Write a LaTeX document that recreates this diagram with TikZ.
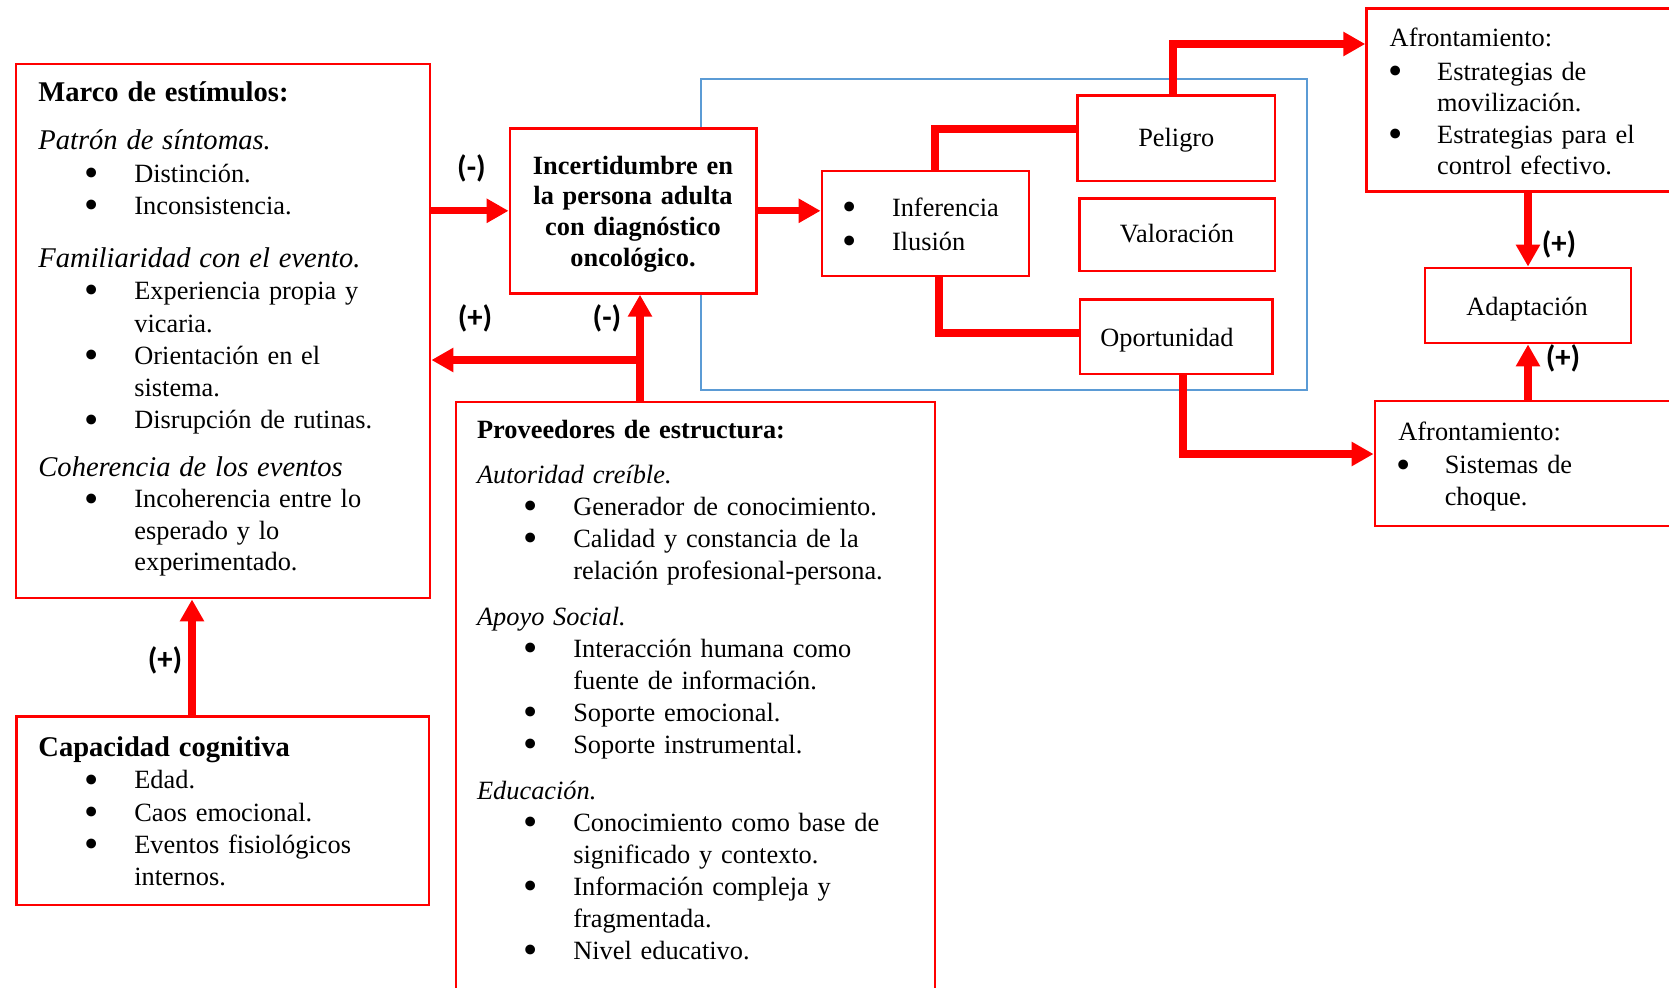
\documentclass[tikz,border=0pt]{standalone}
\usepackage{fontspec}
\setmainfont{Liberation Serif}
\newfontfamily\signfont{Carlito}
\usetikzlibrary{arrows.meta, fit}

\definecolor{boxred}{RGB}{255,0,0}
\definecolor{frameblue}{RGB}{91,155,213}

% bullet lists inside the boxes
\newlength\bulx
\newlength\txtx
\newcommand{\bigbul}{\raisebox{-1.9pt}{\scalebox{1.55}{\textbullet}}}
\newcommand{\bitem}[1]{\hangindent=\txtx\hangafter=1\noindent\makebox[\txtx][l]{\hspace*{\bulx}\makebox[0pt]{\bigbul}}#1\par}
\newcommand{\grp}[2]{\vspace{#1}{\itshape #2\par}}

\tikzset{
  box/.style={draw=boxred, line width=1.3pt, fill=white, inner sep=0pt},
  txt/.style={anchor=base west, inner sep=0pt, text width=9cm,
    font=\fontsize{12}{14.7}\selectfont},
  word/.style={anchor=base, inner sep=0pt, font=\fontsize{12}{14}\selectfont},
  arr/.style={draw=boxred, line width=3.2pt, -{Triangle[length=10pt,width=10.5pt]}},
  link/.style={draw=boxred, line width=3.2pt},
  sign/.style={font=\signfont\bfseries\fontsize{14}{16}\selectfont, inner sep=0pt}
}

\begin{document}
\begin{tikzpicture}[x=0.016cm, y=-0.016cm]
  \useasboundingbox (0,0) rectangle (1669,988);

  % frame round the appraisal
  \node[draw=frameblue, line width=0.7pt, inner sep=0pt, fit={(701,79) (1307,390)}] (zone) {};

  % Boxes
  \node[box, fit={(16,64) (430,598)}] (marco) {};
  \node[box, fit={(16.7,716.7) (429,905)}] (cap) {};
  \node[box, fit={(456,402) (935,1010)}] (prov) {};
  \node[box, fit={(510,128.3) (756.7,293.3)}] (incert) {};
  \node[box, fit={(822,171) (1029,276)}] (infer) {};
  \node[box, fit={(1077.7,95.7) (1275,181)}] (peligro) {};
  \node[box, fit={(1079.3,198.3) (1275,271)}] (valor) {};
  \node[box, fit={(1080,299.3) (1272.7,374)}] (oport) {};
  \node[box, fit={(1366.7,8.3) (1690,191.7)}] (afr1) {};
  \node[box, fit={(1425,268) (1631,343)}] (adapt) {};
  \node[box, fit={(1375,401) (1690,526)}] (afr2) {};

  % Texts of the boxes
  \node[txt] (marcotxt) at (38,101.7) {\setlength\bulx{24.4pt}\setlength\txtx{43.7pt}%
    {\fontsize{13}{15.3}\selectfont\bfseries Marco de estímulos:\par}
    \grp{6.6pt}{\fontsize{13}{15.3}\selectfont Patrón de síntomas.}
    \bitem{Distinción.}
    \bitem{Inconsistencia.}
    \grp{8.9pt}{\fontsize{13}{15.3}\selectfont Familiaridad con el evento.}
    \bitem{Experiencia propia y\newline vicaria.}
    \bitem{Orientación en el\newline sistema.}
    \bitem{Disrupción de rutinas.}
    \grp{6.5pt}{\fontsize{13}{15.3}\selectfont Coherencia de los eventos}
    {\fontsize{12}{14.2}\selectfont\bitem{Incoherencia entre lo\newline esperado y lo\newline experimentado.}}};

  \node[txt] (captxt) at (38,756.7) {\setlength\bulx{24.4pt}\setlength\txtx{43.7pt}%
    {\fontsize{13}{15.3}\selectfont\bfseries Capacidad cognitiva\par}
    \bitem{Edad.}
    \bitem{Caos emocional.}
    \bitem{Eventos fisiológicos\newline internos.}};

  \node[txt, font=\fontsize{12}{14.6}\selectfont] (provtxt) at (476.7,438.3) {\setlength\bulx{24.3pt}\setlength\txtx{43.8pt}%
    {\bfseries Proveedores de estructura:\par}
    \grp{5.9pt}{Autoridad creíble.}
    \bitem{Generador de conocimiento.}
    \bitem{Calidad y constancia de la\newline relación profesional-persona.}
    \grp{6.2pt}{Apoyo Social.}
    \bitem{Interacción humana como\newline fuente de información.}
    \bitem{Soporte emocional.}
    \bitem{Soporte instrumental.}
    \grp{6.2pt}{Educación.}
    \bitem{Conocimiento como base de\newline significado y contexto.}
    \bitem{Información compleja y\newline fragmentada.}
    \bitem{Nivel educativo.}};

  \node[txt, text width=5cm, anchor=base, align=center,
    font=\fontsize{12}{14.1}\selectfont\bfseries] (incerttxt) at (633,174)
    {Incertidumbre en\\la persona adulta\\con diagnóstico\\oncológico.};

  \node[txt, font=\fontsize{12}{15.2}\selectfont] (infertxt) at (849,216.7) {\setlength\bulx{0pt}\setlength\txtx{19.4pt}%
    \bitem{Inferencia}
    \bitem{Ilusión}};

  \node[word] (peligrotxt) at (1176.3,146.7) {Peligro};
  \node[word] (valortxt) at (1177,242.7) {Valoración};
  \node[word] (oporttxt) at (1167,346.7) {Oportunidad};
  \node[word] (adapttxt) at (1527,315) {Adaptación};

  \node[txt, font=\fontsize{12}{14.3}\selectfont] (afr1txt) at (1389.3,46) {\setlength\bulx{2.6pt}\setlength\txtx{21.6pt}%
    Afrontamiento:\par\vspace{1.3pt}
    \bitem{Estrategias de\newline movilización.}
    \bitem{Estrategias para el\newline control efectivo.}};

  \node[txt, font=\fontsize{12}{14.5}\selectfont] (afr2txt) at (1398,440.9) {\setlength\bulx{2.4pt}\setlength\txtx{21.1pt}%
    Afrontamiento:\par\vspace{0.5pt}
    \bitem{Sistemas de\newline choque.}};

  % Connectors
  \coordinate (capx) at (192,0);
  \draw[arr] (capx |- cap.north) -- (capx |- marco.south);
  \draw[arr] (incert.west -| marco.east) -- (incert.west);
  \draw[arr] (incert.east) -- (incert.east -| infer.west);
  \coordinate (provx) at (640,360);
  \draw[arr] (provx |- prov.north) -- (provx |- incert.south);
  \draw[arr] (provx) -- (provx -| marco.east);
  \coordinate (bendp) at (935,129);
  \draw[link] (bendp |- infer.north) |- (bendp -| peligro.west);
  \coordinate (bendo) at (939,333);
  \draw[link] (bendo |- infer.south) |- (bendo -| oport.west);
  \coordinate (upp) at (1173,44);
  \draw[arr] (upp |- peligro.north) |- (upp -| afr1.west);
  \coordinate (downo) at (1183,454);
  \draw[arr] (downo |- oport.south) |- (downo -| afr2.west);
  \draw[arr] (adapt.north |- afr1.south) -- (adapt.north);
  \draw[arr] (adapt.south |- afr2.north) -- (adapt.south);

  % Signs
  \node[sign] (minusa) at (471.5,168) {(-)};
  \node[sign] (plusa) at (475,318) {(+)};
  \node[sign] (minusb) at (607,318) {(-)};
  \node[sign] (plusb) at (165,660) {(+)};
  \node[sign] (plusc) at (1559,244) {(+)};
  \node[sign] (plusd) at (1563,358) {(+)};
\end{tikzpicture}
\end{document}
